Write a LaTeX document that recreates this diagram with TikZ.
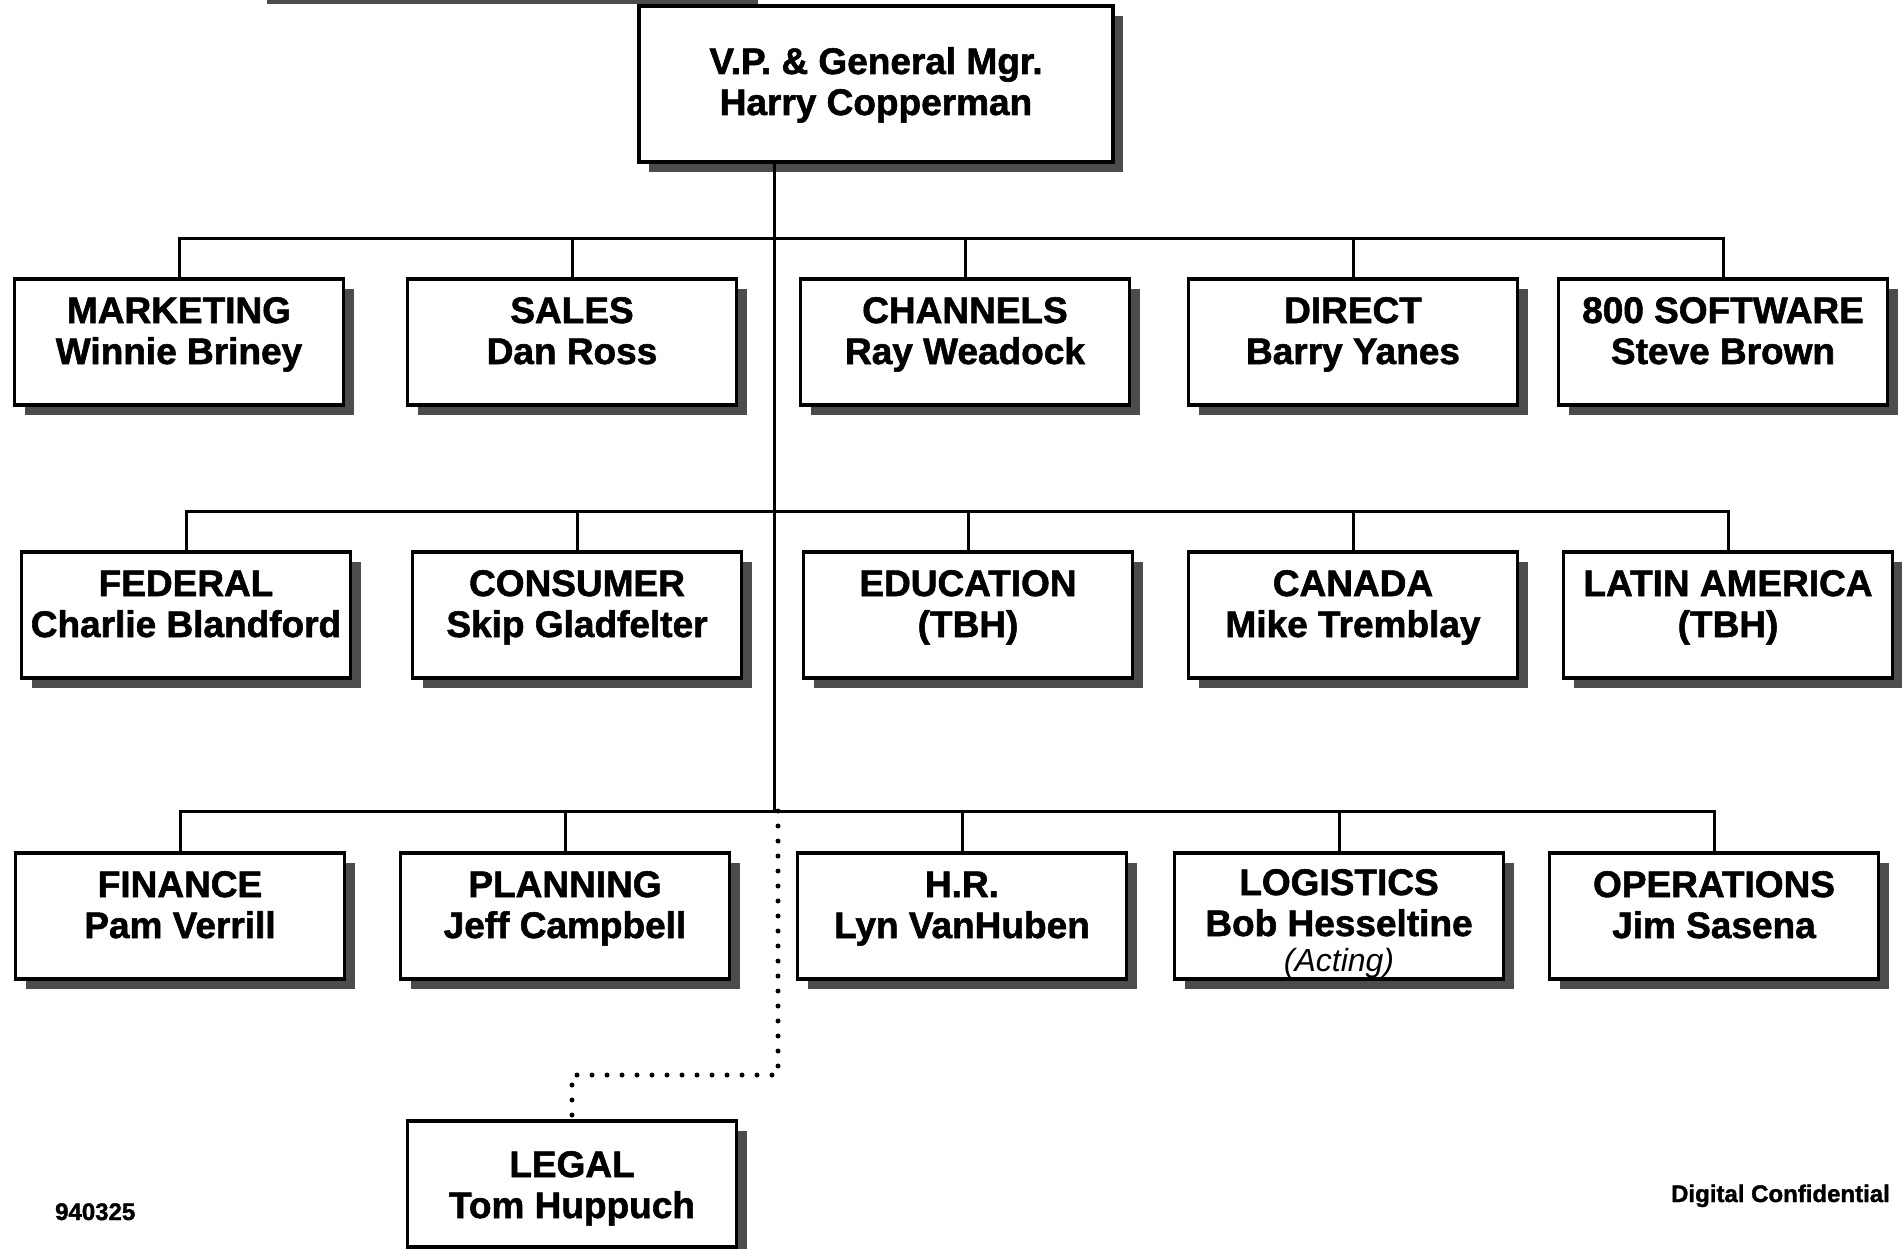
\documentclass[tikz,border=0pt]{standalone}
\usepackage{fontspec}
\setmainfont{Liberation Sans}[BoldFeatures={FakeBold=1.5}]
\usetikzlibrary{shadows}

% text block of fixed size, first baseline at a given depth below the top
\newcommand\orgtext[4]{\parbox[c][#2][t]{#1}{\centering\rule{0pt}{#3}#4\par}}

\tikzset{
  unit/.style={draw, line width=3.5pt, fill=white, inner sep=0pt, outer sep=0pt,
    font=\fontsize{37}{41}\selectfont\bfseries,
    general shadow={fill=black!70, shadow xshift=10pt, shadow yshift=-10pt}},
  wire/.style={line width=3pt},
  dotwire/.style={line width=5pt, line cap=round, dash pattern=on 0pt off 15pt},
  footnote/.style={font=\fontsize{24}{28}\selectfont\bfseries, inner sep=0pt}
}

\begin{document}
\begin{tikzpicture}[x=1pt, y=-1pt]
\fill[white] (0,0) rectangle (1902,1249);
\useasboundingbox (0,0) rectangle (1902,1249);

% shadow edge of the sheet header box above
\fill[black!70] (267,0) rectangle (758,4);

% head
\node[unit] (vp) at (876,84)
  {\orgtext{474pt}{156pt}{68pt}{V.P. \& General Mgr.\\Harry Copperman}};

% first row
\node[unit] (mkt)   at (179,342)  {\orgtext{329pt}{126pt}{44pt}{MARKETING\\Winnie Briney}};
\node[unit] (sales) at (572,342)  {\orgtext{329pt}{126pt}{44pt}{SALES\\Dan Ross}};
\node[unit] (chan)  at (965,342)  {\orgtext{329pt}{126pt}{44pt}{CHANNELS\\Ray Weadock}};
\node[unit] (dir)   at (1353,342) {\orgtext{329pt}{126pt}{44pt}{DIRECT\\Barry Yanes}};
\node[unit] (sw)    at (1723,342) {\orgtext{329pt}{126pt}{44pt}{800 SOFTWARE\\Steve Brown}};

% second row
\node[unit] (fed)   at (186,615)  {\orgtext{329pt}{126pt}{44pt}{FEDERAL\\Charlie Blandford}};
\node[unit] (cons)  at (577,615)  {\orgtext{329pt}{126pt}{44pt}{CONSUMER\\Skip Gladfelter}};
\node[unit] (edu)   at (968,615)  {\orgtext{329pt}{126pt}{44pt}{EDUCATION\\(TBH)}};
\node[unit] (can)   at (1353,615) {\orgtext{329pt}{126pt}{44pt}{CANADA\\Mike Tremblay}};
\node[unit] (latam) at (1728,615) {\orgtext{329pt}{126pt}{44pt}{LATIN AMERICA\\(TBH)}};

% third row
\node[unit] (fin)   at (180,916)  {\orgtext{329pt}{126pt}{44pt}{FINANCE\\Pam Verrill}};
\node[unit] (plan)  at (565,916)  {\orgtext{329pt}{126pt}{44pt}{PLANNING\\Jeff Campbell}};
\node[unit] (hr)    at (962,916)  {\orgtext{329pt}{126pt}{44pt}{H.R.\\Lyn VanHuben}};
\node[unit] (log)   at (1339,916) {\orgtext{329pt}{126pt}{42pt}{LOGISTICS\\Bob Hesseltine\\[-6pt]{\fontsize{32}{32}\selectfont\mdseries\itshape (Acting)}}};
\node[unit] (ops)   at (1714,916) {\orgtext{329pt}{126pt}{44pt}{OPERATIONS\\Jim Sasena}};

% dotted-line report
\node[unit] (legal) at (572,1184) {\orgtext{329pt}{126pt}{56pt}{LEGAL\\Tom Huppuch}};

% trunk and bus lines
\coordinate (b1) at (774,239);
\coordinate (b2) at (774,511);
\coordinate (b3) at (774,811);
\coordinate (d1) at (778,1075);

\draw[wire] (vp.south -| b3) -- (b3);

\draw[wire] (mkt.north) |- (b1) -| (sw.north);
\draw[wire] (sales.north) -- (sales.north |- b1);
\draw[wire] (chan.north)  -- (chan.north |- b1);
\draw[wire] (dir.north)   -- (dir.north |- b1);

\draw[wire] (fed.north) |- (b2) -| (latam.north);
\draw[wire] (cons.north) -- (cons.north |- b2);
\draw[wire] (edu.north)  -- (edu.north |- b2);
\draw[wire] (can.north)  -- (can.north |- b2);

\draw[wire] (fin.north) |- (b3) -| (ops.north);
\draw[wire] (plan.north) -- (plan.north |- b3);
\draw[wire] (hr.north)   -- (hr.north |- b3);
\draw[wire] (log.north)  -- (log.north |- b3);

\draw[dotwire] (b3 -| d1) -- (d1) -| (legal.north);

% sheet footer
\node[footnote, anchor=base west] (date) at (55,1220) {940325};
\node[footnote, anchor=base east] (conf) at (1890,1202) {Digital Confidential};
\end{tikzpicture}
\end{document}
